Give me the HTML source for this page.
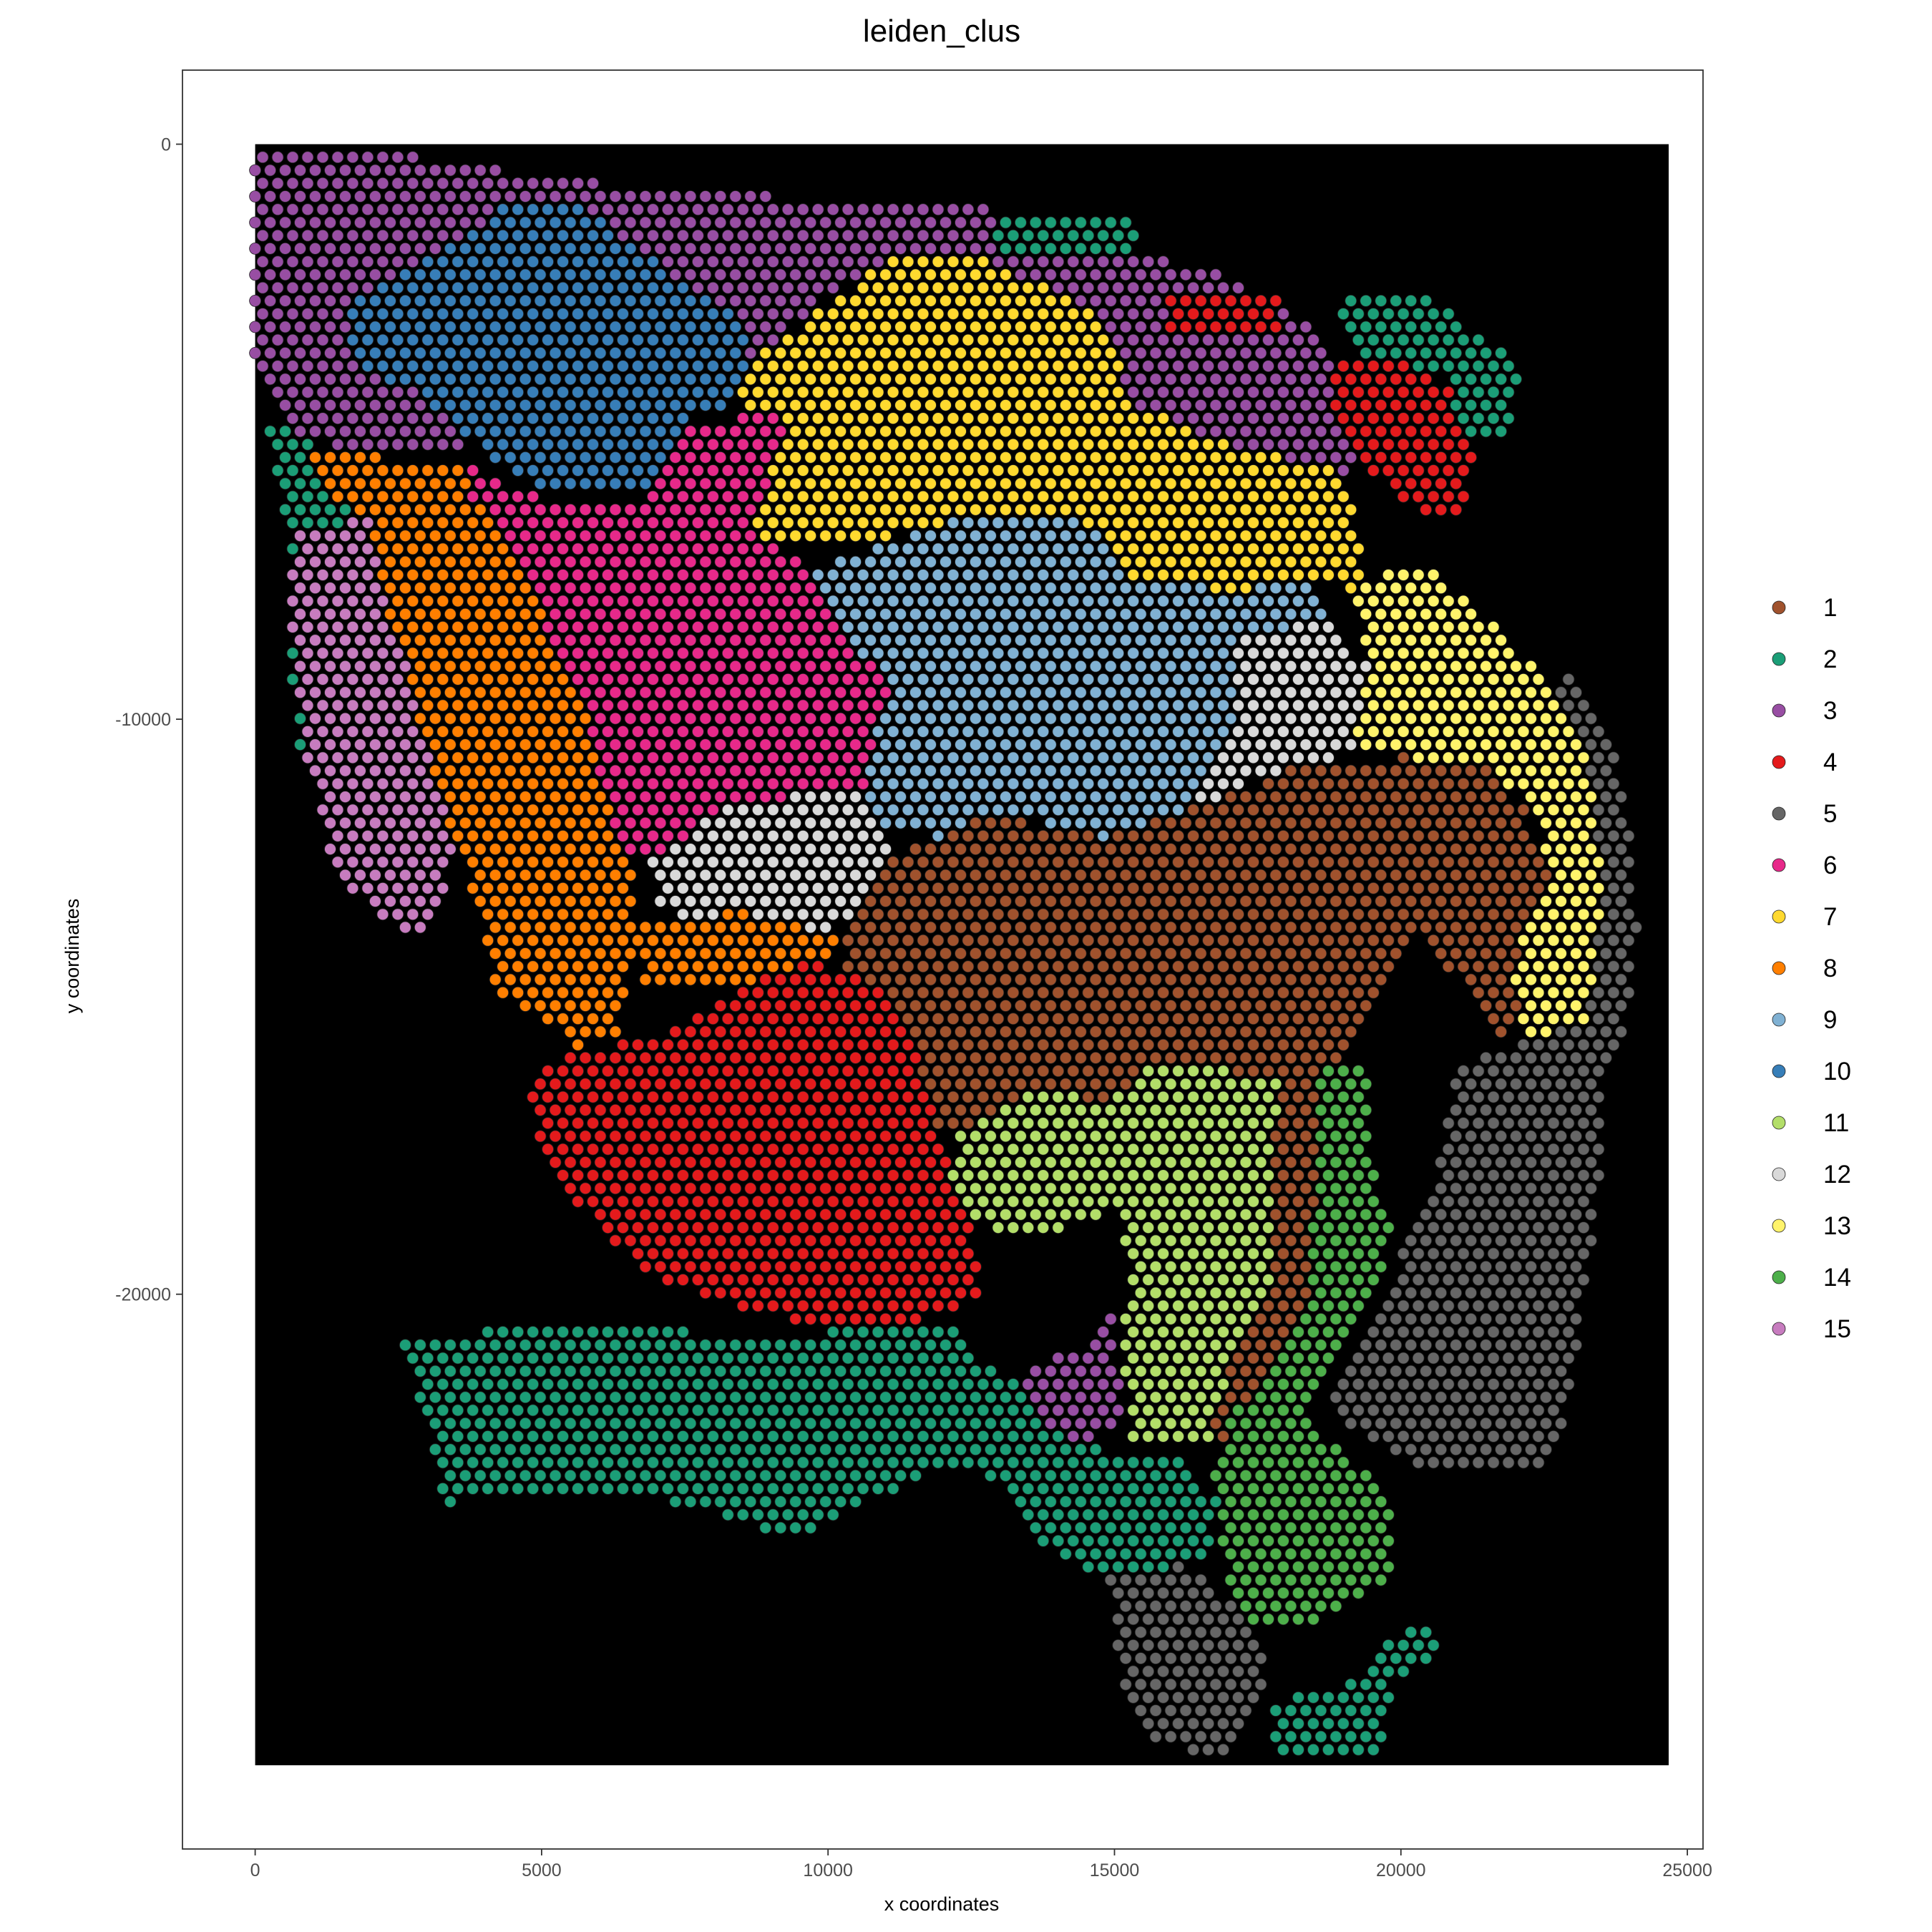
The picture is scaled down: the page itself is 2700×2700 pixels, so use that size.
<!DOCTYPE html>
<html><head><meta charset="utf-8">
<style>
html,body{margin:0;padding:0;background:#fff;}
svg{display:block;font-family:"Liberation Sans",Arial,sans-serif;}
</style></head>
<body>
<svg id="chart" width="2700" height="2700" viewBox="0 0 2700 2700">
<rect x="0" y="0" width="2700" height="2700" fill="#fff"/>
<text x="1316" y="58" font-size="44" text-anchor="middle" fill="#000">leiden_clus</text>
<rect x="255" y="98" width="2125" height="2486" fill="none" stroke="#333" stroke-width="1.8"/>
<rect id="tissue" x="356.6" y="201.5" width="1975.4" height="2265.5" fill="#000"/>
<g id="dots"></g>
<g id="axes"></g>
<g id="legend"></g>
<text x="1316" y="2670" font-size="27" text-anchor="middle" fill="#000">x coordinates</text>
<text x="0" y="0" font-size="27" text-anchor="middle" fill="#000" transform="translate(110,1336) rotate(-90)">y coordinates</text>
</svg>
<script>
const clusterIds = ["1","2","3","4","5","6","7","8","9","10","11","12","13","14","15"];
const clusterColors = ["#a0522d","#1b9e77","#984ea3","#e41a1c","#666666","#e7298a","#ffd92f","#ff7f00","#80b1d3","#377eb8","#b3de69","#d9d9d9","#fff36b","#4daf4a","#c77cbf"];
const xTicks = [0,5000,10000,15000,20000,25000];
const yTicks = [0,-10000,-20000];
// Region outlines in reference-image units (converted to data coords below)
const regionClusters = ["3","10","7","2","15","8","6","9","12","12","8","1","11","4","14","5","13","2","2","5","3","4","4","2","2"];
const regionOutlines = [
 [[207,117],[270,117],[490,150],[640,160],[800,170],[1000,225],[1060,260],[1090,300],[1100,380],[1060,400],[900,320],[800,210],[700,220],[600,300],[520,330],[420,320],[380,360],[300,370],[230,350],[207,290]],
 [[280,250],[350,210],[420,160],[480,170],[540,220],[600,260],[620,320],[560,340],[520,400],[450,400],[400,370],[340,320],[290,300]],
 [[600,300],[720,210],[800,210],[900,260],[920,330],[1000,360],[1080,380],[1110,440],[1100,480],[1060,470],[1000,480],[920,470],[880,420],[780,420],[700,440],[620,440],[600,420]],
 [[215,340],[260,360],[300,420],[310,470],[260,520],[280,620],[245,620],[235,540],[240,470],[225,400]],
 [[240,430],[310,420],[320,480],[340,560],[360,640],[370,700],[340,760],[300,740],[270,700],[250,620],[240,540],[235,480]],
 [[250,360],[300,370],[380,380],[420,450],[440,500],[470,560],[490,640],[510,700],[520,760],[500,840],[470,850],[430,820],[400,800],[390,740],[370,690],[350,620],[330,540],[310,480],[300,420],[260,400]],
 [[380,380],[450,410],[520,410],[560,350],[640,330],[620,400],[600,430],[660,460],[680,500],[720,560],[740,600],[700,640],[600,650],[540,690],[510,700],[490,640],[470,560],[440,500],[420,450],[380,400]],
 [[660,460],[780,420],[880,420],[920,470],[1000,480],[1060,470],[1080,500],[1040,540],[1000,600],[960,660],[920,690],[900,680],[820,660],[760,680],[720,670],[700,640],[720,560],[680,500]],
 [[1000,520],[1080,500],[1110,540],[1100,610],[1060,620],[1000,640],[960,660],[1000,600]],
 [[520,700],[600,650],[700,640],[730,690],[720,730],[660,760],[600,760],[540,740]],
 [[520,750],[600,740],[680,760],[660,790],[560,800],[520,800]],
 [[680,760],[720,700],[800,660],[900,680],[960,660],[1060,620],[1200,610],[1240,660],[1260,720],[1250,790],[1220,840],[1180,790],[1150,760],[1140,780],[1120,800],[1090,850],[1070,950],[1060,1050],[1040,1100],[1000,1200],[980,1150],[1000,1100],[1010,1040],[1020,950],[1040,880],[960,860],[920,870],[900,900],[850,880],[800,910],[760,920],[750,880],[740,830],[710,800],[690,790]],
 [[780,920],[850,880],[900,900],[920,870],[960,860],[1040,880],[1030,950],[1030,1050],[1000,1100],[980,1170],[920,1170],[910,1100],[920,1020],[900,980],[880,990],[860,1000],[820,1000],[780,990],[770,950]],
 [[430,870],[480,850],[540,840],[600,800],[660,780],[700,790],[740,830],[750,880],[770,950],[790,1000],[800,1050],[750,1070],[680,1080],[600,1060],[520,1030],[470,980],[440,940],[430,900]],
 [[1070,860],[1110,860],[1110,940],[1130,990],[1120,1040],[1080,1100],[1060,1150],[1090,1180],[1130,1210],[1130,1280],[1080,1310],[1040,1320],[1000,1310],[990,1250],[980,1200],[1000,1150],[1040,1100],[1060,1050],[1070,950]],
 [[1250,520],[1300,580],[1320,650],[1330,750],[1320,830],[1300,890],[1300,960],[1290,1020],[1280,1100],[1260,1190],[1150,1190],[1100,1160],[1080,1140],[1100,1100],[1130,1040],[1150,990],[1170,940],[1180,870],[1240,840],[1290,820],[1300,700],[1280,600]],
 [[1100,470],[1160,460],[1220,510],[1260,560],[1290,620],[1300,720],[1290,830],[1240,840],[1225,790],[1260,700],[1230,640],[1200,620],[1100,610],[1110,540]],
 [[325,1085],[400,1080],[460,1075],[560,1080],[640,1090],[700,1070],[770,1070],[800,1110],[840,1130],[860,1160],[900,1180],[960,1180],[990,1220],[980,1260],[950,1270],[900,1280],[860,1260],[830,1240],[820,1200],[760,1190],[700,1220],[660,1240],[620,1240],[560,1220],[480,1210],[400,1215],[360,1220],[350,1160],[335,1120]],
 [[1030,1380],[1090,1370],[1110,1350],[1140,1320],[1160,1315],[1170,1345],[1130,1360],[1120,1420],[1040,1425],[1030,1400]],
 [[900,1280],[960,1270],[1000,1300],[1030,1340],[1020,1390],[990,1425],[940,1415],[910,1370],[905,1320]],
 [[830,1110],[880,1090],[905,1060],[910,1160],[880,1170],[840,1150]],
 [[1080,290],[1140,290],[1190,320],[1200,380],[1180,420],[1140,410],[1100,370],[1080,340]],
 [[950,240],[1040,240],[1040,270],[950,270]],
 [[805,170],[920,170],[920,205],[805,205]],
 [[1085,235],[1150,235],[1235,295],[1220,360],[1190,360],[1170,300],[1100,290]]
];
const refToData = p => [(p[0]-207)*21.5, -(p[1]-117)*21.44];
const regions = regionOutlines.map(r => r.map(refToData));

const xScale = v => 356.6 + v*0.08006;
const yScale = v => 201.5 - v*0.08036;

function inside(pt, poly){
  let c=false;
  for(let i=0,j=poly.length-1;i<poly.length;j=i++){
    const [xi,yi]=poly[i],[xj,yj]=poly[j];
    if(((yi>pt[1])!==(yj>pt[1])) && (pt[0] < (xj-xi)*(pt[1]-yi)/(yj-yi)+xi)) c=!c;
  }
  return c;
}
const NS="http://www.w3.org/2000/svg";
const dots=document.getElementById('dots');
const stepX=262, stepY=227;
let row=0;
for(let y=0;y>-28000;y-=stepY,row++){
  for(let x=(row%2?stepX/2:0);x<24500;x+=stepX){
    let cl=null;
    for(let r=0;r<regions.length;r++){ if(inside([x,y],regions[r])) cl=regionClusters[r]; }
    if(cl===null) continue;
    const c=document.createElementNS(NS,'circle');
    c.setAttribute('cx',xScale(x).toFixed(1));
    c.setAttribute('cy',yScale(y).toFixed(1));
    c.setAttribute('r','8');
    c.setAttribute('fill',clusterColors[clusterIds.indexOf(cl)]);
    c.setAttribute('stroke','#222');
    c.setAttribute('stroke-width','0.8');
    
    
    dots.appendChild(c);
  }
}
const axes=document.getElementById('axes');
xTicks.forEach(t=>{
  const X=xScale(t);
  const l=document.createElementNS(NS,'line');
  l.setAttribute('x1',X);l.setAttribute('x2',X);l.setAttribute('y1',2584);l.setAttribute('y2',2593);
  l.setAttribute('stroke','#333');l.setAttribute('stroke-width','1.8');
  
  
  axes.appendChild(l);
  const tx=document.createElementNS(NS,'text');
  tx.setAttribute('x',X);tx.setAttribute('y',2622);tx.setAttribute('font-size','25');
  tx.setAttribute('text-anchor','middle');tx.setAttribute('fill','#4d4d4d');
  tx.textContent=t;
  
  
  axes.appendChild(tx);
});
yTicks.forEach(t=>{
  const Y=yScale(t);
  const l=document.createElementNS(NS,'line');
  l.setAttribute('x1',246);l.setAttribute('x2',255);l.setAttribute('y1',Y);l.setAttribute('y2',Y);
  l.setAttribute('stroke','#333');l.setAttribute('stroke-width','1.8');
  
  
  axes.appendChild(l);
  const tx=document.createElementNS(NS,'text');
  tx.setAttribute('x',239);tx.setAttribute('y',Y+9);tx.setAttribute('font-size','25');
  tx.setAttribute('text-anchor','end');tx.setAttribute('fill','#4d4d4d');
  tx.textContent=t;
  
  
  axes.appendChild(tx);
});
const legend=document.getElementById('legend');
clusterIds.forEach((id,i)=>{
  const Y=849+i*72;
  const c=document.createElementNS(NS,'circle');
  c.setAttribute('cx',2486);c.setAttribute('cy',Y);c.setAttribute('r','9');
  c.setAttribute('fill',clusterColors[i]);c.setAttribute('stroke','#222');c.setAttribute('stroke-width','0.8');
  
  
  legend.appendChild(c);
  const tx=document.createElementNS(NS,'text');
  tx.setAttribute('x',2548);tx.setAttribute('y',Y+12);tx.setAttribute('font-size','35');
  tx.setAttribute('fill','#000');
  tx.textContent=id;
  
  
  legend.appendChild(tx);
});
</script>
</body></html>
